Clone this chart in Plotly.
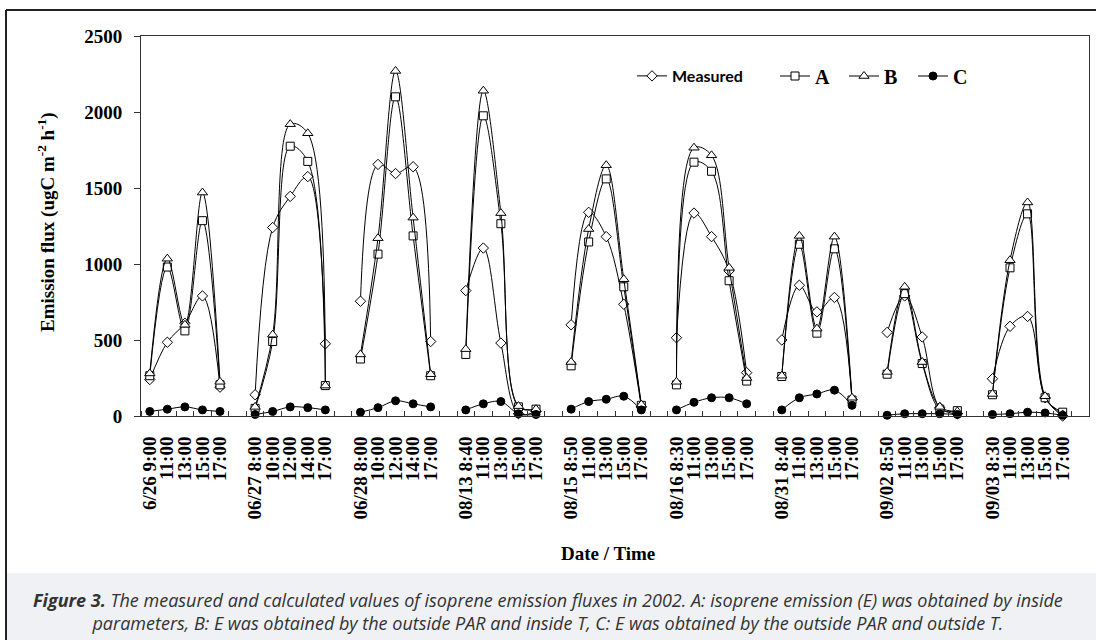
import plotly.graph_objects as go

# ---------------- data ----------------
days = ["6/26", "06/27", "06/28", "08/13", "08/15", "08/16", "08/31", "09/02", "09/03"]
times = [
    ["9:00", "11:00", "13:00", "15:00", "17:00"],
    ["8:00", "10:00", "12:00", "14:00", "17:00"],
    ["8:00", "10:00", "12:00", "14:00", "17:00"],
    ["8:40", "11:00", "13:00", "15:00", "17:00"],
    ["8:50", "11:00", "13:00", "15:00", "17:00"],
    ["8:30", "11:00", "13:00", "15:00", "17:00"],
    ["8:40", "11:00", "13:00", "15:00", "17:00"],
    ["8:50", "11:00", "13:00", "15:00", "17:00"],
    ["8:30", "11:00", "13:00", "15:00", "17:00"],
]
measured = [240, 485, 610, 790, 190,
            140, 1240, 1445, 1575, 475,
            755, 1655, 1595, 1640, 490,
            825, 1105, 480, 15, 30,
            600, 1340, 1180, 735, 60,
            515, 1335, 1180, 955, 285,
            500, 860, 685, 780, 110,
            550, 790, 520, 55, 15,
            245, 590, 655, 120, 0]
series_a = [265, 980, 560, 1285, 205,
            50, 490, 1775, 1675, 200,
            375, 1065, 2100, 1185, 265,
            405, 1975, 1265, 60, 45,
            330, 1145, 1560, 850, 70,
            205, 1670, 1610, 890, 230,
            260, 1130, 545, 1100, 105,
            275, 805, 345, 45, 35,
            140, 975, 1330, 120, 25]
series_b = [280, 1035, 600, 1470, 225,
            60, 535, 1920, 1860, 200,
            405, 1170, 2270, 1305, 275,
            440, 2140, 1335, 65, 45,
            355, 1230, 1650, 900, 75,
            225, 1765, 1715, 975, 250,
            265, 1185, 575, 1180, 120,
            290, 850, 355, 60, 30,
            145, 1025, 1405, 130, 10]
series_c = [30, 45, 60, 40, 30,
            10, 30, 60, 55, 40,
            25, 55, 100, 80, 60,
            40, 80, 95, 15, 10,
            45, 95, 110, 130, 40,
            40, 90, 120, 120, 80,
            40, 120, 145, 170, 70,
            5, 15, 15, 15, 10,
            10, 15, 25, 20, 5]
y_ticks = [0, 500, 1000, 1500, 2000, 2500]

# ---------------- layout helpers ----------------
W, H = 1096, 640
L, R, T, B = 141, 1089, 36, 416
PW, PH = R - L, B - T


def px(x):
    return (x - L) / PW


def py(y):
    return (B - y) / PH


# category positions: 5 points per day, one empty slot between days
npd = len(times[0])
positions, labels = [], []
for d, day in enumerate(days):
    for k, t in enumerate(times[d]):
        positions.append(d * (npd + 1) + k)
        labels.append(f"{day} {t}" if k == 0 else t)
n_slots = len(days) * (npd + 1) - 1


def with_gaps(vals):
    xs, ys = [], []
    for d in range(len(days)):
        for k in range(npd):
            i = d * npd + k
            xs.append(positions[i])
            ys.append(vals[i])
        xs.append(None)
        ys.append(None)
    return xs, ys


fig = go.Figure()

series = [
    ("Measured", measured, dict(symbol="diamond", size=8, color="white",
                                line=dict(color="black", width=1)), "legend"),
    ("A", series_a, dict(symbol="square", size=8, color="white",
                         line=dict(color="black", width=1)), "legend2"),
    ("B", series_b, dict(symbol="triangle-up", size=9, color="white",
                         line=dict(color="black", width=1)), "legend3"),
    ("C", series_c, dict(symbol="circle", size=8, color="black",
                         line=dict(color="black", width=1)), "legend4"),
]
for name, vals, marker, lg in series:
    xs, ys = with_gaps(vals)
    fig.add_trace(go.Scatter(
        x=xs, y=ys, name=name, mode="lines+markers",
        line=dict(color="black", width=1, shape="spline", smoothing=1),
        marker=marker, connectgaps=False, cliponaxis=False, legend=lg,
    ))

serif = "Liberation Serif"
tick_font = dict(family=serif, size=19, color="black", weight="bold")

fig.update_layout(
    width=W, height=H,
    margin=dict(l=L, r=W - R, t=T, b=H - B, autoexpand=False),
    paper_bgcolor="white", plot_bgcolor="white",
    showlegend=True,
    xaxis=dict(
        range=[-0.5, n_slots + 0.5], tickmode="array",
        tickvals=positions, ticktext=labels, tickangle=-90,
        ticks="", tickfont=tick_font, ticklabelstandoff=12,
        showgrid=False, zeroline=False,
        showline=True, linecolor="#333", linewidth=1, mirror=True,
        minor=dict(tickmode="array",
                   tickvals=[i - 0.5 for i in range(n_slots + 2)],
                   ticks="inside", ticklen=5, tickcolor="#333", tickwidth=1,
                   showgrid=False),
    ),
    yaxis=dict(
        range=[0, 2500], tickmode="array", tickvals=y_ticks,
        ticks="outside", ticklen=6, tickcolor="#333",
        tickfont=tick_font, ticklabelstandoff=8,
        showgrid=False, zeroline=False,
        showline=True, linecolor="#333", linewidth=1, mirror=True,
    ),
)

leg_common = dict(orientation="h", yanchor="middle", xanchor="left",
                  bgcolor="rgba(0,0,0,0)", borderwidth=0, itemwidth=30)
fig.update_layout(
    legend=dict(x=px(632), y=py(76),
                font=dict(family="Lato", size=16, color="black", weight="bold"),
                **leg_common),
    legend2=dict(x=px(775), y=py(76),
                 font=dict(family=serif, size=20, color="black", weight="bold"),
                 **leg_common),
    legend3=dict(x=px(844), y=py(76),
                 font=dict(family=serif, size=20, color="black", weight="bold"),
                 **leg_common),
    legend4=dict(x=px(913), y=py(76),
                 font=dict(family=serif, size=20, color="black", weight="bold"),
                 **leg_common),
)

# outer frame and caption background
fig.add_shape(type="rect", xref="paper", yref="paper",
              x0=px(7), x1=px(W + 5), y0=py(573), y1=py(H + 5),
              fillcolor="#eff1f4", line=dict(width=0), layer="below")
fig.add_shape(type="line", xref="paper", yref="paper",
              x0=px(6), x1=px(W + 5), y0=py(10), y1=py(10),
              line=dict(color="#222", width=2))
fig.add_shape(type="line", xref="paper", yref="paper",
              x0=px(6), x1=px(6), y0=py(10), y1=py(H + 5),
              line=dict(color="#222", width=2))

# axis titles
fig.add_annotation(xref="paper", yref="paper", x=px(46), y=py(222),
                   xanchor="center", yanchor="middle",
                   text="Emission flux (ugC m<sup>-2</sup> h<sup>-1</sup>)",
                   textangle=-90, showarrow=False,
                   font=dict(family=serif, size=19, color="black", weight="bold"))
fig.add_annotation(xref="paper", yref="paper", x=px(608), y=py(553),
                   xanchor="center", yanchor="middle",
                   text="Date / Time", showarrow=False,
                   font=dict(family=serif, size=19, color="black", weight="bold"))

# caption
fig.add_annotation(
    xref="paper", yref="paper", x=px(548), y=py(611),
    xanchor="center", yanchor="middle",
    text=("<b>Figure 3.</b> The measured and calculated values of isoprene emission fluxes in 2002. "
          "A: isoprene emission (E) was obtained by inside<br>"
          "parameters, B: E was obtained by the outside PAR and inside T, "
          "C: E was obtained by the outside PAR and outside T."),
    showarrow=False, align="center",
    font=dict(family="Open Sans", size=18, color="#333", style="italic"),
)

fig.write_html("out.html")
